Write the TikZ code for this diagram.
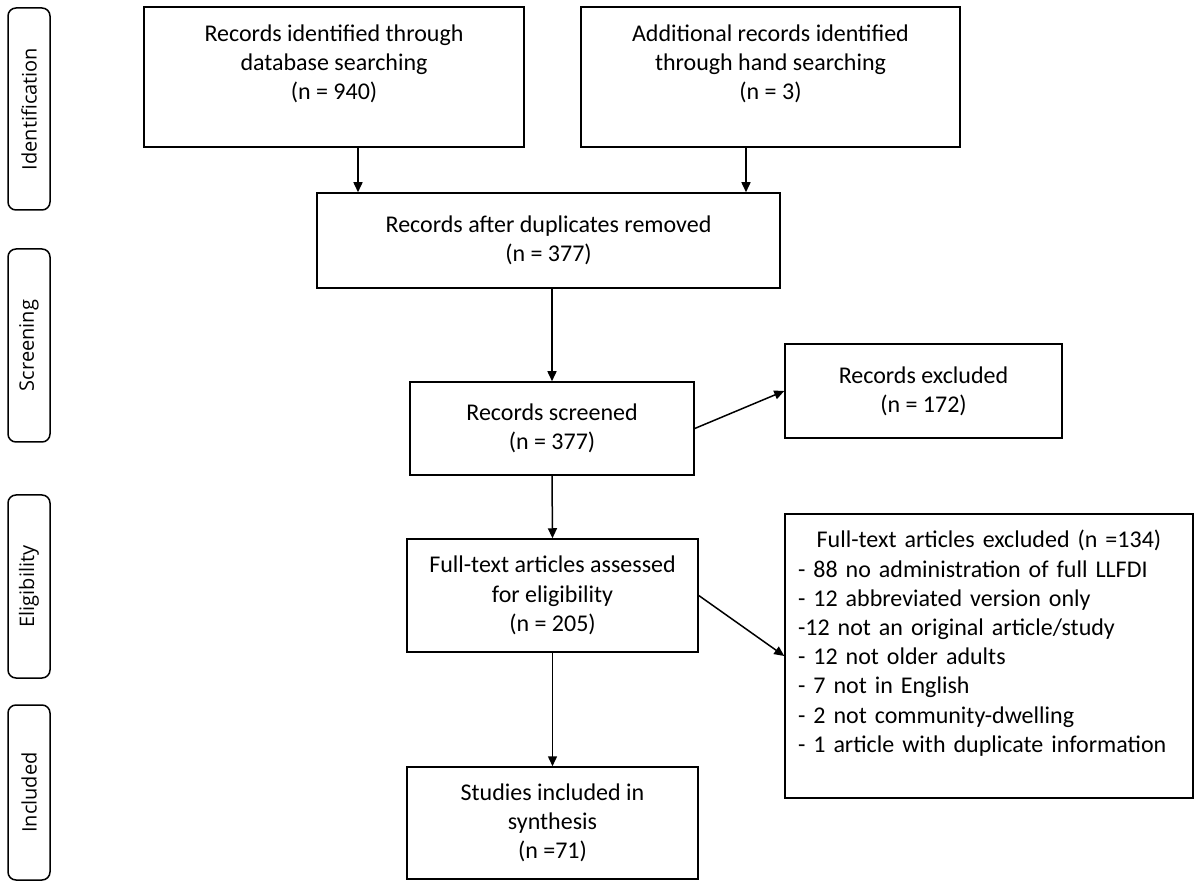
\documentclass[tikz,border=0pt]{standalone}
\usepackage{fontspec}
\setmainfont{Carlito}
\newfontfamily\phasefont{Open Sans}
\usetikzlibrary{arrows.meta}

\begin{document}
\begin{tikzpicture}[x=0.5pt, y=-0.5pt, line width=0.75pt, b/.style={rectangle, draw, align=center, inner sep=0pt, font=\fontsize{12}{14.6}\selectfont}, p/.style={rectangle, draw, rounded corners=4pt, rotate=90, minimum height=21pt, inner sep=0pt, font=\phasefont\fontsize{10}{12}\selectfont}, a/.style={-{Triangle[length=5pt, width=4.5pt]}}]
		\useasboundingbox (0,0) rectangle (1200,887);

		\node[p, minimum width=101pt] (ident_label) at (29,109) {Identification};
		\node[p, minimum width=96.5pt] (screen_label) at (29,345.5) {Screening};
		\node[p, minimum width=91.5pt] (elig_label) at (29,586.5) {Eligibility};
		\node[p, minimum width=87.5pt] (incl_label) at (29,792.5) {Included};

		\node[b, minimum width=190pt, minimum height=70pt] (db) at (334,77) {Records identified through\\database searching\\(n = 940)\\ \mbox{}};
		\node[b, minimum width=189.5pt, minimum height=70pt] (hand) at (770.5,77) {Additional records identified\\through hand searching\\(n = 3)\\ \mbox{}};
		\node[b, minimum width=231.5pt, minimum height=47.5pt] (dup) at (548.5,240.5) {Records after duplicates removed\\(n = 377)};
		\node[b, minimum width=142pt, minimum height=46.5pt] (screened) at (552,428.5) {Records screened\\(n = 377)};
		\node[b, minimum width=138.5pt, minimum height=47pt] (excluded) at (923.5,391) {Records excluded\\(n = 172)};
		\node[b, minimum width=145.5pt, minimum height=56.5pt] (assessed) at (552.5,595.5) {Full-text articles assessed\\for eligibility\\(n = 205)};
		\node[b, minimum width=204pt, minimum height=142pt, text width=191pt, align=left] (ft_excl) at (989,656) {\makebox[191pt]{Full-text articles excluded (n =134)}\\- 88 no administration of full LLFDI\\- 12 abbreviated version only\\-12 not an original article/study\\- 12 not older adults\\- 7 not in English\\- 2 not community-dwelling\\- 1 article with duplicate information\\ \mbox{}};
		\node[b, minimum width=145.5pt, minimum height=56pt] (included) at (552.5,823) {Studies included in\\synthesis\\(n =71)};

		\draw[a] ([xshift=12pt]db.south) -- ([xshift=12pt]db.south |- dup.north);
		\draw[a] ([xshift=-12.25pt]hand.south) -- ([xshift=-12.25pt]hand.south |- dup.north);
		\draw[a] (screened.north |- dup.south) -- (screened.north);
		\draw[a] (screened.east) -- (excluded.west);
		\draw[a] (screened.south) -- (assessed.north);
		\draw[a] (assessed.east) -- (ft_excl.west);
		\draw[a] (assessed.south) -- (included.north);
	\end{tikzpicture}
\end{document}
